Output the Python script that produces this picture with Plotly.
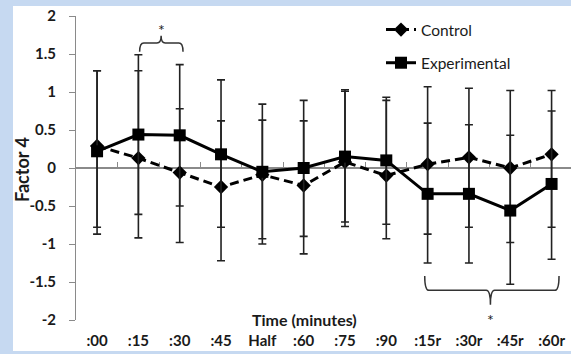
import plotly.graph_objects as go

# ---- data ----
categories = [":00", ":15", ":30", ":45", "Half", ":60", ":75", ":90",
              ":15r", ":30r", ":45r", ":60r"]
control_mean = [0.29, 0.13, -0.06, -0.25, -0.09, -0.23, 0.08, -0.10,
                0.05, 0.14, 0.00, 0.18]
control_upper = [1.28, 1.28, 0.78, 0.62, 0.63, 0.62, 1.01, 0.89,
                 1.07, 1.05, 1.02, 1.02]
control_lower = [-0.78, -0.92, -0.98, -1.22, -1.00, -1.13, -0.77, -0.93,
                 -0.87, -0.78, -0.98, -0.78]
exp_mean = [0.22, 0.44, 0.43, 0.18, -0.05, 0.00, 0.15, 0.10,
            -0.34, -0.34, -0.56, -0.21]
exp_upper = [1.28, 1.49, 1.36, 1.16, 0.84, 0.89, 1.03, 0.93,
             0.59, 0.57, 0.43, 0.75]
exp_lower = [-0.87, -0.61, -0.50, -0.78, -0.93, -0.90, -0.71, -0.74,
             -1.25, -1.25, -1.53, -1.20]
y_ticks = [2, 1.5, 1, 0.5, 0, -0.5, -1, -1.5, -2]
y_tick_text = ["2", "1.5", "1", "0.5", "0", "-0.5", "-1", "-1.5", "-2"]

# ---- layout constants ----
W, H = 571, 354
ML, MR, MT, MB = 76, 0, 16, 34
PW, PH = W - ML - MR, H - MT - MB
FONT = "Lato"
AXC = "#8a8a8a"
TXT = "#1a1a1a"
BG = "#c6d9f1"

def px_x(p):
    return (p - ML) / PW

def px_y(p):
    return (H - MB - p) / PH

xs = list(range(len(categories)))
c_plus = [u - m for u, m in zip(control_upper, control_mean)]
c_minus = [m - l for l, m in zip(control_lower, control_mean)]
e_plus = [u - m for u, m in zip(exp_upper, exp_mean)]
e_minus = [m - l for l, m in zip(exp_lower, exp_mean)]

fig = go.Figure()
fig.add_trace(go.Scatter(
    x=xs, y=control_mean, name="Control", mode="lines+markers",
    line=dict(color="black", width=3, dash="9px,5px"),
    marker=dict(symbol="diamond", size=11, color="black"),
    error_y=dict(type="data", symmetric=False, array=c_plus,
                 arrayminus=c_minus, color="#222222", thickness=1.6, width=4),
    legendgroup="c",
))
fig.add_trace(go.Scatter(
    x=xs, y=exp_mean, name="Experimental", mode="lines+markers",
    line=dict(color="black", width=3),
    marker=dict(symbol="square", size=12, color="black"),
    error_y=dict(type="data", symmetric=False, array=e_plus,
                 arrayminus=e_minus, color="#222222", thickness=1.6, width=4),
    legendgroup="e",
))
# helper trace so the zero-line category axis is drawn
fig.add_trace(go.Scatter(x=[xs[0]], y=[0], xaxis="x2", mode="markers",
                         marker=dict(opacity=0), showlegend=False,
                         hoverinfo="skip"))

xr = [-0.51, 11.47]
fig.update_layout(
    width=W, height=H,
    margin=dict(l=ML, r=MR, t=MT, b=MB),
    paper_bgcolor=BG, plot_bgcolor="white",
    font=dict(family=FONT, color=TXT),
    showlegend=True,
    legend=dict(x=px_x(381), y=px_y(13), xanchor="left", yanchor="top",
                bgcolor="rgba(0,0,0,0)", font=dict(size=15.5, color=TXT),
                traceorder="grouped", tracegroupgap=10),
    xaxis=dict(range=xr, tickmode="array", tickvals=xs, ticktext=categories,
               showgrid=False, zeroline=False, showline=False, ticks="",
               tickfont=dict(size=15, family=FONT, color=TXT, weight="bold"),
               ticklabelstandoff=10),
    xaxis2=dict(range=xr, overlaying="x", anchor="free", position=0.5,
                side="bottom", tickmode="array",
                tickvals=[i + 0.5 for i in xs[:-1]],
                showticklabels=False, ticks="inside", ticklen=5,
                tickcolor=AXC, showline=True, linecolor=AXC, linewidth=1.5,
                showgrid=False, zeroline=False, layer="below traces"),
    yaxis=dict(range=[-2, 2], tickmode="array", tickvals=y_ticks,
               ticktext=y_tick_text, showgrid=False, zeroline=False,
               showline=True, linecolor=AXC, linewidth=1, ticks="outside",
               ticklen=6, tickcolor=AXC, ticklabelstandoff=10,
               tickfont=dict(size=15, family=FONT, color=TXT, weight="bold")),
)

# white chart area on the blue frame
fig.add_shape(type="rect", xref="paper", yref="paper",
              x0=px_x(13), x1=px_x(571), y0=px_y(351), y1=px_y(6),
              fillcolor="white", line=dict(width=0), layer="below")

def brace(x0, x1, xm, y_end, y_h, y_tip, r=0.1):
    return (f"M {x0},{y_end} Q {x0},{y_h} {x0 + r},{y_h} "
            f"L {xm - r},{y_h} Q {xm},{y_h} {xm},{y_tip} "
            f"Q {xm},{y_h} {xm + r},{y_h} "
            f"L {x1 - r},{y_h} Q {x1},{y_h} {x1},{y_end}")

fig.add_shape(type="path", xref="x", yref="y",
              path=brace(1.03, 2.08, 1.55, 1.53, 1.645, 1.74),
              line=dict(color="#333333", width=1.5))
fig.add_shape(type="path", xref="x", yref="y",
              path=brace(7.93, 11.18, 9.52, -1.42, -1.61, -1.80),
              line=dict(color="#333333", width=1.5))

fig.add_annotation(x=1.55, y=1.82, xref="x", yref="y", text="*",
                   showarrow=False, font=dict(size=16, color=TXT))
fig.add_annotation(x=9.52, y=-1.99, xref="x", yref="y", text="*",
                   showarrow=False, font=dict(size=16, color=TXT))

fig.add_annotation(x=px_x(304), y=px_y(319), xref="paper", yref="paper",
                   text="<b>Time (minutes)</b>", showarrow=False,
                   xanchor="center", yanchor="middle",
                   font=dict(size=16, color=TXT))
fig.add_annotation(x=px_x(22), y=px_y(170), xref="paper", yref="paper",
                   text="<b>Factor 4</b>", showarrow=False, textangle=-90,
                   xanchor="center", yanchor="middle",
                   font=dict(size=18, color=TXT))

fig.write_html("out.html")
